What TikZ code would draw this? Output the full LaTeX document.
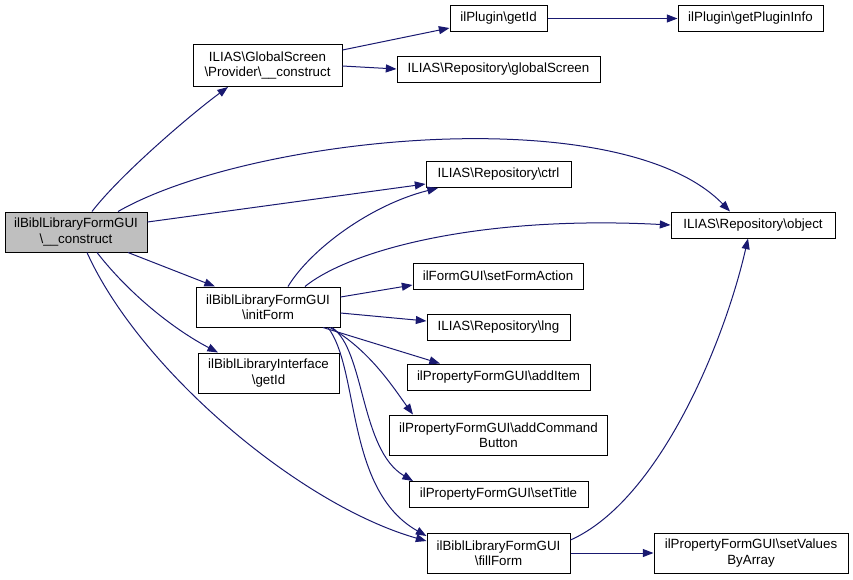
\documentclass[tikz,border=0pt]{standalone}
\usepackage{fontspec}
\setmainfont{Liberation Sans}
\usetikzlibrary{arrows.meta,calc}
\definecolor{edgecol}{RGB}{25,25,112}
\definecolor{maingray}{RGB}{191,191,191}
\begin{document}
\begin{tikzpicture}[x=0.75pt,y=-0.75pt,
  box/.style={draw=black,line width=0.75pt,fill=white,rectangle,inner sep=0pt,align=center,
    font=\fontsize{10}{11.5}\selectfont},
  one/.style={box,minimum height=19.5pt},
  two/.style={box,minimum height=30pt},
  edge/.style={draw=edgecol,line width=0.75pt,-{Triangle[length=8pt,width=6pt]}}]
\useasboundingbox (0,0) rectangle (853,579);
% nodes
\node[two,fill=maingray,minimum width=106.5pt] (main) at (76,232) {ilBiblLibraryFormGUI\\\textbackslash\_\_construct};
\node[two,minimum width=111.75pt,minimum height=31.5pt] (prov) at (267.5,65.5) {ILIAS\textbackslash GlobalScreen\\\textbackslash Provider\textbackslash\_\_construct};
\node[two,minimum width=108pt] (init) at (268,307) {ilBiblLibraryFormGUI\\\textbackslash initForm};
\node[two,minimum width=105.75pt] (iface) at (268.5,373) {ilBiblLibraryInterface\\\textbackslash getId};
\node[one,minimum width=72.75pt] (getid) at (498.5,18.5) {ilPlugin\textbackslash getId};
\node[one,minimum width=108.75pt] (pinfo) at (750.5,18.5) {ilPlugin\textbackslash getPluginInfo};
\node[one,minimum width=152.25pt] (gscreen) at (498.5,69.5) {ILIAS\textbackslash Repository\textbackslash globalScreen};
\node[one,minimum width=108.75pt] (ctrl) at (498.5,174.5) {ILIAS\textbackslash Repository\textbackslash ctrl};
\node[one,minimum width=123pt] (object) at (753,225) {ILIAS\textbackslash Repository\textbackslash object};
\node[one,minimum width=127.5pt] (sfa) at (498,276) {ilFormGUI\textbackslash setFormAction};
\node[one,minimum width=107.25pt] (lng) at (498.5,327.5) {ILIAS\textbackslash Repository\textbackslash lng};
\node[one,minimum width=137.25pt] (additem) at (498.5,377) {ilPropertyFormGUI\textbackslash addItem};
\node[two,minimum width=163.5pt] (addcmd) at (498.5,435) {ilPropertyFormGUI\textbackslash addCommand\\Button};
\node[one,minimum width=134.25pt] (settitle) at (498.5,494.5) {ilPropertyFormGUI\textbackslash setTitle};
\node[two,minimum width=107.25pt] (fill) at (498.5,553) {ilBiblLibraryFormGUI\\\textbackslash fillForm};
\node[two,minimum width=145.5pt] (setvals) at (751,553) {ilPropertyFormGUI\textbackslash setValues\\ByArray};
% edges
\draw[edge] ($(main.north)+(16,0)$) .. controls (120,175) and (190,115) .. ($(prov.south)+(-39.5,0)$);
\draw[edge] ($(main.north)+(42,0)$) .. controls (250,136) and (620,98) .. ($(object.north)+(-23,0)$);
\draw[edge] ($(main.east)+(0,-10)$) -- ($(ctrl.west)+(0,9.5)$);
\draw[edge] ($(main.south)+(52,0)$) -- ($(init.north)+(-53,0)$);
\draw[edge] ($(main.south)+(21,0)$) .. controls (130,295) and (175,330) .. ($(iface.north)+(-50.5,0)$);
\draw[edge] ($(main.south)+(11,0)$) .. controls (140,370) and (300,505) .. ($(fill.west)+(0,-12)$);
\draw[edge] ($(prov.east)+(0,-15.5)$) -- ($(getid.west)+(0,9.5)$);
\draw[edge] ($(prov.east)+(0,0.5)$) -- ($(gscreen.west)+(0,-0.5)$);
\draw[edge] (getid.east) -- (pinfo.west);
\draw[edge] ($(init.north)+(20,0)$) .. controls (310,250) and (370,205) .. ($(ctrl.south)+(-60.5,0)$);
\draw[edge] ($(init.north)+(37,0)$) .. controls (350,250) and (480,215) .. (object.west);
\draw[edge] ($(init.east)+(0,-10)$) -- ($(sfa.west)+(0,9)$);
\draw[edge] ($(init.east)+(0,6)$) -- ($(lng.west)+(0,-6.5)$);
\draw[edge] ($(init.south)+(55,0)$) -- ($(additem.north)+(-58.5,0)$);
\draw[edge] ($(init.south)+(62,0)$) .. controls (370,350) and (395,390) .. ($(addcmd.north)+(-85.5,0)$);
\draw[edge] ($(init.south)+(64,0)$) .. controls (365,350) and (360,450) .. ($(settitle.north)+(-85.5,0)$);
\draw[edge] ($(init.south)+(60,0)$) .. controls (360,370) and (345,490) .. ($(fill.west)+(0,-17)$);
\draw[edge] ($(fill.east)+(0,-13)$) .. controls (660,500) and (725,340) .. ($(object.south)+(-5,0)$);
\draw[edge] (fill.east) -- (setvals.west);
\end{tikzpicture}
\end{document}
